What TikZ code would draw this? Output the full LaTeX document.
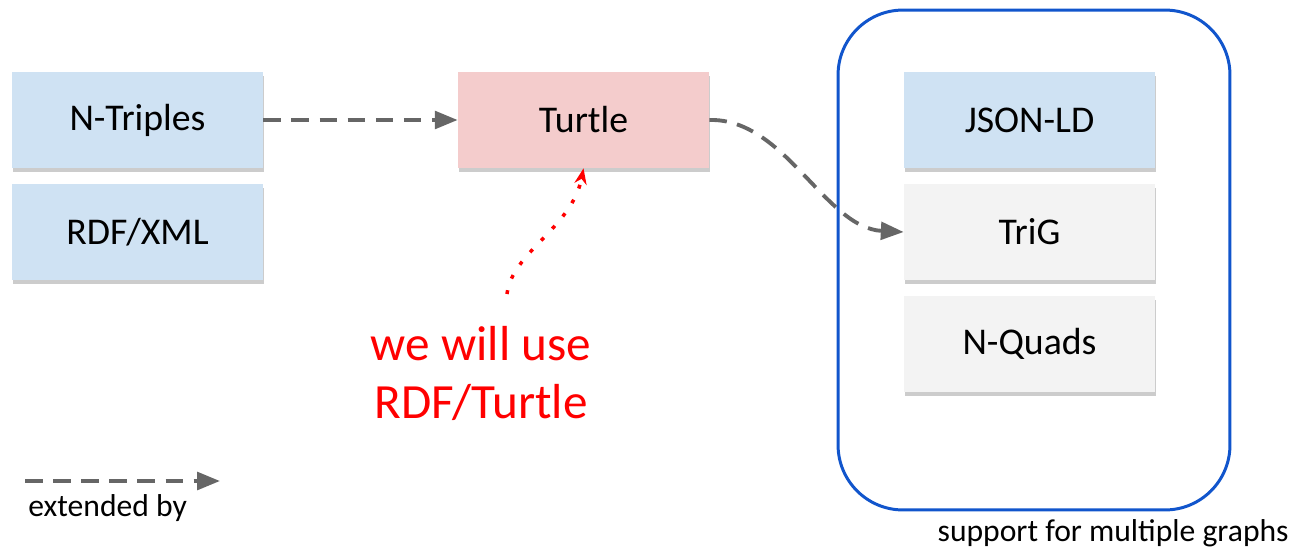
\documentclass[tikz,border=0pt]{standalone}
\usepackage{fontspec}
\setmainfont{Carlito}
\usetikzlibrary{shadows,arrows.meta}

\definecolor{fmtblue}{HTML}{CFE2F3}
\definecolor{fmtpink}{HTML}{F4CCCC}
\definecolor{fmtgray}{HTML}{F3F3F3}
\definecolor{arrgray}{HTML}{666666}
\definecolor{grpblue}{HTML}{1155CC}
\definecolor{notered}{HTML}{FF0000}

\tikzset{
  fmtbox/.style={minimum width=5.02cm, minimum height=1.92cm, inner sep=0pt,
    font=\fontsize{21.5}{25}\selectfont,
    drop shadow={shadow xshift=0.8pt, shadow yshift=-2.2pt, opacity=0.4}},
  extarrow/.style={draw=arrgray, line width=2.2pt, dash pattern=on 10pt off 6pt,
    -{Triangle[length=13pt,width=10pt]}},
  notetext/.style={text=notered, font=\fontsize{28}{33}\selectfont, inner sep=0pt},
  smalltext/.style={font=\fontsize{18}{22}\selectfont, inner sep=0pt},
}

\begin{document}
\begin{tikzpicture}[x=0.02cm,y=-0.02cm]
\useasboundingbox (0,0) rectangle (1293,548);
% group of formats with named graphs
\node[draw=grpblue, line width=1.7pt, rounded corners=1.3cm,
  minimum width=7.84cm, minimum height=10cm] (multi) at (1034,260) {};
\node[smalltext, anchor=base east] (multilbl) at (1289,541) {support for multiple graphs};
% format boxes
\node[fmtbox, fill=fmtblue] (ntriples) at (137.5,120) {N-Triples};
\node[fmtbox, fill=fmtblue] (rdfxml)   at (137.5,232) {RDF/XML};
\node[fmtbox, fill=fmtpink] (turtle)   at (583.5,120) {Turtle};
\node[fmtbox, fill=fmtblue] (jsonld)   at (1029.5,120) {JSON-LD};
\node[fmtbox, fill=fmtgray] (trig)     at (1029.5,232) {TriG};
\node[fmtbox, fill=fmtgray] (nquads)   at (1029.5,344) {N-Quads};
% extension arrows
\draw[extarrow] (ntriples) -- (turtle);
\draw[extarrow] (turtle.east) .. controls (785,118) and (825,228) .. (trig.west);
% note
\node[notetext, anchor=base] (note1) at (481,360) {we will use};
\node[notetext, anchor=base] (note2) at (481,418) {RDF/Turtle};
\coordinate (notetail) at (507,294);
\draw[notered, line width=2pt, dash pattern=on 2.2pt off 7pt,
  -{Stealth[length=9pt,width=7pt]}]
  (notetail) .. controls (512,252) and (572,228) .. (turtle.south);
% legend
\coordinate (legstart) at (25,481);
\coordinate (legend) at (220,481);
\draw[extarrow] (legstart) -- (legend);
\node[smalltext, anchor=base west] (leglbl) at (28,516) {extended by};
\end{tikzpicture}
\end{document}
